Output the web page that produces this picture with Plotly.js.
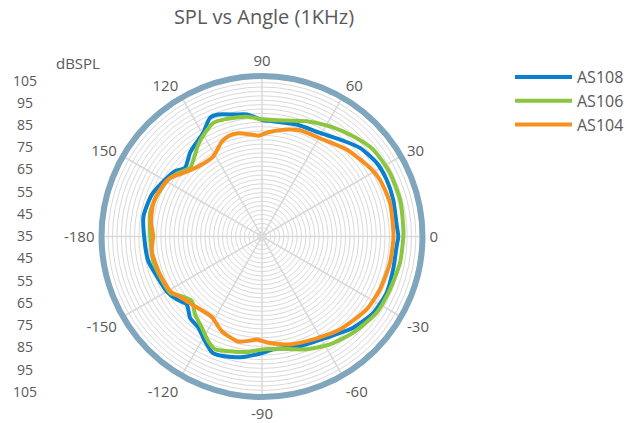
<!DOCTYPE html>
<html>
<head>
<meta charset="utf-8">
<script src="https://cdn.plot.ly/plotly-3.0.1.min.js"></script>
<style>html,body{margin:0;padding:0;background:#fff}#chart{width:639px;height:423px}</style>
</head>
<body>
<div id="chart"></div>
<script>
// ---- data (angles in degrees, levels in dBSPL) ----
const seriesNames = ['AS108', 'AS106', 'AS104'];

const thetaAS108 = [-180, -167.7, -159.3, -150.1, -143.6, -137.9, -131.5, -124.9, -118.6, -113, -105.6, -98, -90, -84.3, -70.9, -57.4, -45, -34.4, -24.3, -14.1, -4.1, 0, 4.4, 15.7, 24.6, 32.7, 42.1, 51.2, 60.8, 72.8, 84.4, 90, 97, 102.5, 109.7, 113.7, 119.5, 126.1, 130.7, 138.3, 143.1, 149.6, 159.2, 170.3, 180];
const rAS108 = [88.6, 87.9, 86.1, 85, 83.2, 81.1, 84.4, 85.6, 89.2, 92.5, 91.8, 90.2, 88, 86.6, 87.8, 89.6, 93.7, 96.4, 97.2, 96.5, 96.4, 97, 96.5, 97, 97.3, 97, 95.1, 91.6, 89, 88.3, 87.7, 88, 90.9, 91.8, 93.9, 93.9, 89.2, 86.7, 85.2, 81.9, 84.5, 86.1, 88.6, 89.7, 88.6];

const thetaAS106 = [-180, -167.2, -158.7, -148.5, -143.4, -137.4, -130.7, -123.4, -117.2, -112.6, -103.2, -97.5, -90, -80.9, -68.4, -57.8, -46.5, -33.6, -22.5, -10.8, 0, 4.2, 15, 26.5, 38, 47.7, 58.3, 68.8, 82.8, 90, 97.3, 108.3, 113.2, 118.8, 124.7, 129.3, 136.3, 142.7, 149.9, 159, 168, 180];
const rAS106 = [85.8, 85.7, 84.8, 84, 80.5, 78.4, 81.7, 84.7, 88.5, 90.6, 88.8, 88, 86.4, 86.7, 90.2, 93, 95.3, 97.6, 98, 98.9, 99.3, 99.4, 100, 100, 99.2, 96.6, 93.9, 91.2, 88.3, 88.3, 89.9, 91, 91.2, 88.8, 85.9, 83.1, 80.2, 82.8, 85.1, 86.3, 87, 85.8];

const thetaAS104 = [-180, -172.4, -159.6, -149.3, -144.5, -133.9, -122.1, -113, -102.7, -95.7, -92.9, -86.6, -75.5, -63.5, -50, -34.9, -24.2, -11.6, 0, 14.7, 25.8, 32.5, 45.8, 57.7, 70.3, 77, 86.5, 92, 95.8, 103, 108.6, 113, 121.5, 132.5, 141.9, 147.5, 155.3, 162.8, 172, 180];
const rAS104 = [84.5, 85.6, 84.5, 83.6, 81.7, 79, 78.1, 81.8, 84, 82.5, 81.9, 83.4, 85.7, 87.3, 90.2, 93, 93.8, 94.4, 94.8, 95.2, 94.5, 93.2, 90.2, 87.1, 86.3, 84.9, 82.5, 80.9, 81.6, 83.2, 83.1, 81.8, 77.6, 78.1, 81.4, 84.6, 86, 86.7, 86, 84.5];

const angleTickVals = [0, 30, 60, 90, 120, 150, 180, 210, 240, 270, 300, 330];
const angleTickText = ['0', '30', '60', '90', '120', '150', '-180', '-150', '-120', '-90', '-60', '-30'];

const dbLabels = [105, 95, 85, 75, 65, 55, 45, 35, 45, 55, 65, 75, 85, 95, 105];

const colors = ['#0a7fcc', '#8cc63f', '#f7901e'];

// ---- traces ----
const thetas = [thetaAS108, thetaAS106, thetaAS104];
const rs = [rAS108, rAS106, rAS104];
const traces = seriesNames.map((n, i) => ({
  type: 'scatterpolar', mode: 'lines', name: n,
  theta: thetas[i], r: rs[i],
  line: {color: colors[i], width: 4, shape: 'spline', smoothing: 0.6},
  hoverinfo: 'skip'
}));

// left dBSPL scale: distance from centre, upper half positive
const centreDb = 35;
const labelPos = dbLabels.map((v, i) => (i < dbLabels.length / 2 ? 1 : -1) * (v - centreDb));
traces.push({
  type: 'scatter', mode: 'text', xaxis: 'x', yaxis: 'y',
  x: dbLabels.map(() => 0.5), y: labelPos, text: dbLabels.map(String),
  textposition: 'middle center',
  textfont: {family: 'Open Sans', size: 14, color: '#595959'},
  showlegend: false, hoverinfo: 'skip', cliponaxis: false
});

const layout = {
  width: 639, height: 423,
  margin: {l: 0, r: 0, t: 0, b: 0},
  paper_bgcolor: '#ffffff',
  font: {family: 'Open Sans', color: '#595959'},
  title: {text: 'SPL vs Angle (1KHz)', x: 264 / 639, xanchor: 'center', y: 1 - 17 / 423, yanchor: 'middle',
          font: {family: 'Open Sans', size: 20, color: '#595959'}},
  showlegend: true,
  legend: {x: 510 / 639, xanchor: 'left', y: 1 - 60 / 423, yanchor: 'top',
           font: {family: 'Open Sans', size: 16, color: '#595959'}, itemwidth: 57, bgcolor: 'rgba(0,0,0,0)'},
  polar: {
    domain: {x: [101.5 / 639, 422.5 / 639], y: [1 - 397 / 423, 1 - 76 / 423]},
    bgcolor: '#ffffff',
    radialaxis: {range: [35, 108], tick0: 35, dtick: 2, showticklabels: false, ticks: '',
                 showline: false, gridcolor: '#d9d9d9', gridwidth: 1},
    angularaxis: {direction: 'counterclockwise', rotation: 0, tickmode: 'array',
                  tickvals: angleTickVals, ticktext: angleTickText,
                  showline: true, linecolor: '#7fa6bc', linewidth: 6,
                  gridcolor: '#d9d9d9', gridwidth: 1.5,
                  ticks: 'outside', ticklen: 1, tickcolor: 'rgba(0,0,0,0)',
                  tickfont: {family: 'Open Sans', size: 15, color: '#595959'}}
  },
  xaxis: {domain: [0, 80 / 639], range: [0, 1.6], visible: false, fixedrange: true},
  yaxis: {domain: [1 - 393.3 / 423, 1 - 82 / 423], range: [-70, 70], visible: false, fixedrange: true},
  annotations: [{text: 'dBSPL', xref: 'paper', yref: 'paper', x: 78 / 639, y: 1 - 63 / 423,
                 xanchor: 'center', yanchor: 'middle', showarrow: false,
                 font: {family: 'Open Sans', size: 15, color: '#595959'}}]
};

Plotly.newPlot('chart', traces, layout, {staticPlot: true, displayModeBar: false});
</script>
</body>
</html>
